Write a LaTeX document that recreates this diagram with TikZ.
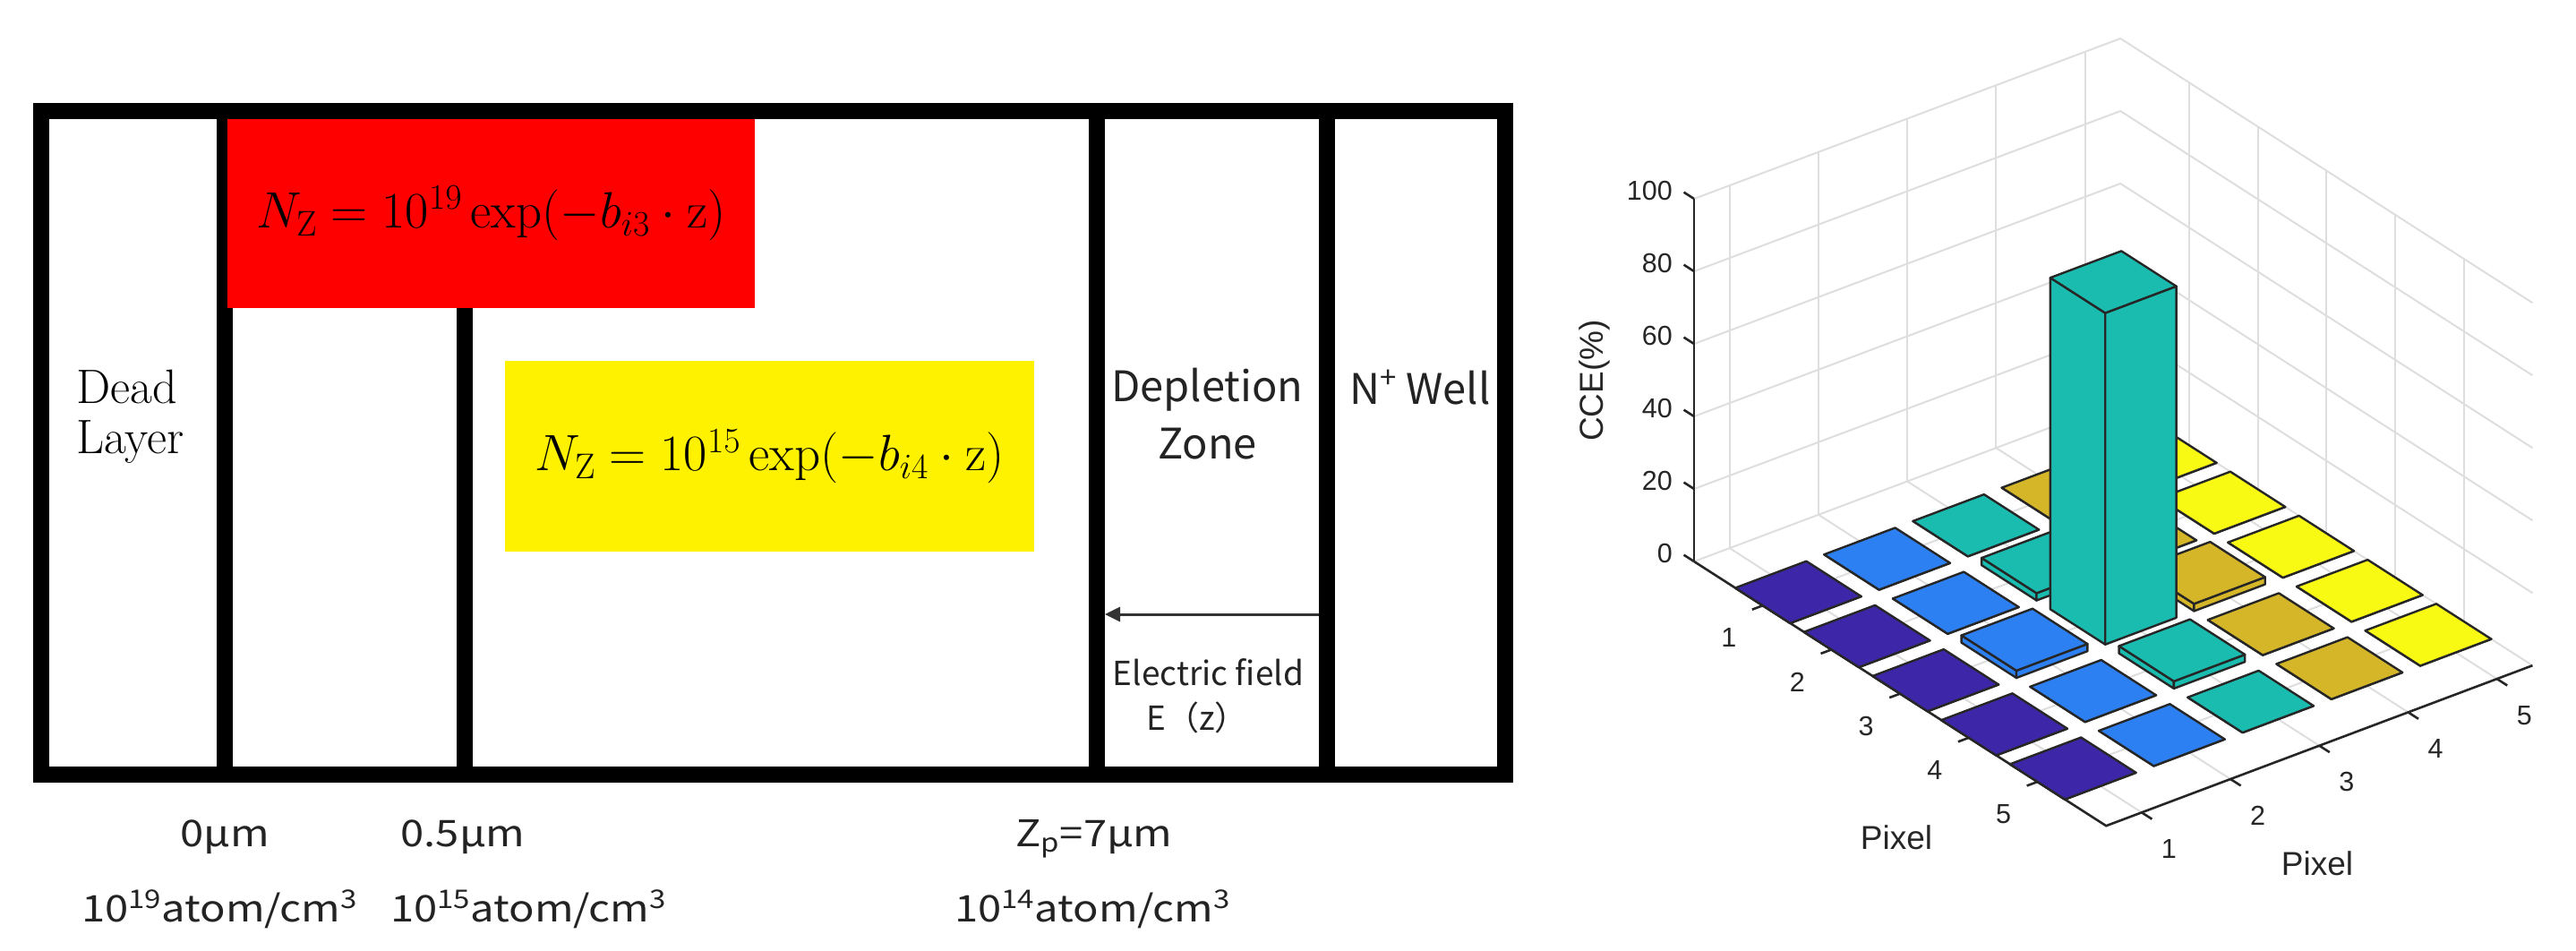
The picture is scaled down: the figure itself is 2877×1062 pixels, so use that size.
\RequirePackage{fix-cm}
\documentclass[tikz,border=0pt]{standalone}
\usepackage{fontspec}
\usepackage{graphicx}
\usetikzlibrary{arrows.meta}
\newfontfamily\cjkfont{Noto Sans CJK SC}
\newfontfamily\widecjk[FakeStretch=1.15]{Noto Sans CJK SC}
\newfontfamily\arialfont{Liberation Sans}
\definecolor{barcolor1}{RGB}{62,38,168}
\definecolor{barcolor2}{RGB}{45,128,242}
\definecolor{barcolor3}{RGB}{27,188,176}
\definecolor{barcolor4}{RGB}{212,182,40}
\definecolor{barcolor5}{RGB}{249,250,20}
\definecolor{axgray}{RGB}{38,38,38}
\definecolor{gridgray}{RGB}{222,222,222}
\definecolor{txtgray}{RGB}{35,35,35}
\newcommand\setpx[1]{\fontsize{#1}{#1}\selectfont}
\newcommand\mybar[4]{%
  \pgfmathsetmacro\xa{#1-0.4}\pgfmathsetmacro\xb{#1+0.4}%
  \pgfmathsetmacro\ya{#2-0.4}\pgfmathsetmacro\yb{#2+0.4}%
  \filldraw[barline, fill=#4] (\xa,\ya,0)--(\xa,\yb,0)--(\xa,\yb,#3)--(\xa,\ya,#3)--cycle;
  \filldraw[barline, fill=#4] (\xa,\yb,0)--(\xb,\yb,0)--(\xb,\yb,#3)--(\xa,\yb,#3)--cycle;
  \filldraw[barline, fill=#4] (\xa,\ya,#3)--(\xb,\ya,#3)--(\xb,\yb,#3)--(\xa,\yb,#3)--cycle;
}
\begin{document}
\begin{tikzpicture}[x=1pt,y=-1pt,
  wallline/.style={line width=18pt, black},
  eqbox/.style={inner sep=0pt, minimum width=#1, font=\setpx{57}},
  serifl/.style={font=\setpx{54}, inner sep=0pt, text=black},
  sansl/.style={font=\cjkfont\setpx{47}, inner sep=0pt, text=txtgray},
  smalll/.style={font=\cjkfont\setpx{37}, inner sep=0pt, text=txtgray},
  botl/.style={font=\widecjk\setpx{41}, inner sep=0pt, text=txtgray},
  efarrow/.style={-{Triangle[length=17pt,width=16pt]}, line width=3pt, color=black!80},
  gridl/.style={line width=2pt, color=gridgray},
  axl/.style={line width=2.6pt, color=axgray},
  barline/.style={line width=2.4pt, draw=black!85, line join=round},
  ticklab/.style={font=\arialfont\setpx{30.5}, inner sep=0pt, text=axgray},
  axlab/.style={font=\arialfont\setpx{37}, inner sep=0pt, text=axgray}]
\useasboundingbox (0,0) rectangle (2877,1062);
\fill[white] (0,0) rectangle (2877,1062);

% ---------------- left panel ----------------
\coordinate (boxNW) at (46,124.5);
\coordinate (boxSE) at (1681,865);
\draw[wallline] (boxNW) rectangle (boxSE);
\coordinate (d1t) at (251,124.5);   \coordinate (d1b) at (251,865);
\coordinate (d2t) at (518.5,344);   \coordinate (d2b) at (518.5,865);
\coordinate (d3t) at (1225,124.5);  \coordinate (d3b) at (1225,865);
\coordinate (d4t) at (1482,124.5);  \coordinate (d4b) at (1482,865);
\draw[wallline] (d1t) -- (d1b);
\draw[wallline] (d2t) -- (d2b);
\draw[wallline] (d3t) -- (d3b);
\draw[wallline] (d4t) -- (d4b);

\node[eqbox=589pt, minimum height=211pt, fill=red] (redbox) at (548.5,238.5)
  {$N_{\mathrm{Z}} = 10^{19}\exp(-b_{i3}\cdot \mathrm{z})$};
\node[eqbox=590.3pt, minimum height=213.7pt, fill=yellow] (yellowbox) at (859.5,509.6)
  {$N_{\mathrm{Z}} = 10^{15}\exp(-b_{i4}\cdot \mathrm{z})$};

\node[serifl, anchor=base west] (dead) at (85,450) {Dead};
\node[serifl, anchor=base west] (layer) at (85,506) {Layer};
\node[sansl, anchor=base] (depl) at (1348.5,448) {Depletion};
\node[sansl, anchor=base] (zone) at (1348.5,512) {Zone};
\node[sansl, anchor=base] (nwell) at (1586,451) {N\textsuperscript{+} Well};

\coordinate (efS) at (1473,686);
\coordinate (efE) at (1234,686);
\draw[efarrow] (efS) -- (efE);
\node[smalll, anchor=base] (efield) at (1349.5,765) {Electric field};
\node[smalll, anchor=base] (ez) at (1337,815) {E（z）};

\node[botl, anchor=base] (p0) at (251,945) {0μm};
\node[botl, anchor=base] (p05) at (517,945) {0.5μm};
\node[botl, anchor=base] (p7) at (1222,945) {Z\textsubscript{p}=7μm};
\node[botl, anchor=base] (c19) at (245,1029) {10\textsuperscript{19}atom/cm\textsuperscript{3}};
\node[botl, anchor=base] (c15) at (590,1029) {10\textsuperscript{15}atom/cm\textsuperscript{3}};
\node[botl, anchor=base] (c14) at (1220,1029) {10\textsuperscript{14}atom/cm\textsuperscript{3}};

% ---------------- right panel: 3D bar chart ----------------
\begin{scope}[shift={(1832.5,649.4)}, x={(99.2pt,37.3pt)}, y={(76.7pt,-49.2pt)}, z={(0pt,4.05pt)}]
  % grid
  \foreach \zz in {0,20,...,100} {
    \draw[gridl] (0.6,0,\zz) -- (5.4,0,\zz) -- (5.4,6,\zz);
  }
  \foreach \xx in {1,...,5} {
    \draw[gridl] (\xx,0,0) -- (\xx,0,100);
    \draw[gridl] (\xx,0,0) -- (\xx,6,0);
  }
  \foreach \yy in {1,...,5} {
    \draw[gridl] (5.4,\yy,0) -- (5.4,\yy,100);
    \draw[gridl] (0.6,\yy,0) -- (5.4,\yy,0);
  }
  % axes
  \coordinate (zbase) at (0.6,0,0);
  \coordinate (ztop) at (0.6,0,100);
  \coordinate (front) at (0.6,6,0);
  \coordinate (right) at (5.4,6,0);
  \draw[axl] (zbase) -- (ztop);
  \draw[axl] (zbase) -- (front) -- (right);
  \foreach \zz in {0,20,...,100} {
    \draw[axl] (0.6,0,\zz) -- (0.6,-0.15,\zz);
    \node[ticklab, anchor=east, xshift=-24pt, yshift=9pt] (zl\zz) at (0.6,0,\zz) {\zz};
  }
  \foreach \yy in {1,...,5} {
    \draw[axl] (0.6,\yy,0) -- (0.48,\yy,0);
    \node[ticklab, xshift=-38pt, yshift=-36pt] (yl\yy) at (0.6,\yy,0) {\yy};
  }
  \foreach \xx in {1,...,5} {
    \draw[axl] (\xx,6,0) -- (\xx,6.15,0);
    \node[ticklab, xshift=30.5pt, yshift=-40.7pt] (xl\xx) at (\xx,6,0) {\xx};
  }
  % bars, back to front
  \foreach \i/\j/\h in {5/1/0, 4/1/0, 5/2/0, 3/1/0, 4/2/0, 5/3/0, 2/1/0, 3/2/2, 4/3/2, 5/4/0,
                        1/1/0, 2/2/0, 3/3/91.4, 4/4/0, 5/5/0, 1/2/0, 2/3/2, 3/4/2, 4/5/0,
                        1/3/0, 2/4/0, 3/5/0, 1/4/0, 2/5/0, 1/5/0} {
    \mybar{\i}{\j}{\h}{barcolor\i}
  }
\end{scope}
\node[axlab] (pixL) at (2118,935) {Pixel};
\node[axlab] (pixR) at (2588,964) {Pixel};
\node[axlab, rotate=90] (cce) at (1781,425) {CCE(\%)};
\end{tikzpicture}
\end{document}
